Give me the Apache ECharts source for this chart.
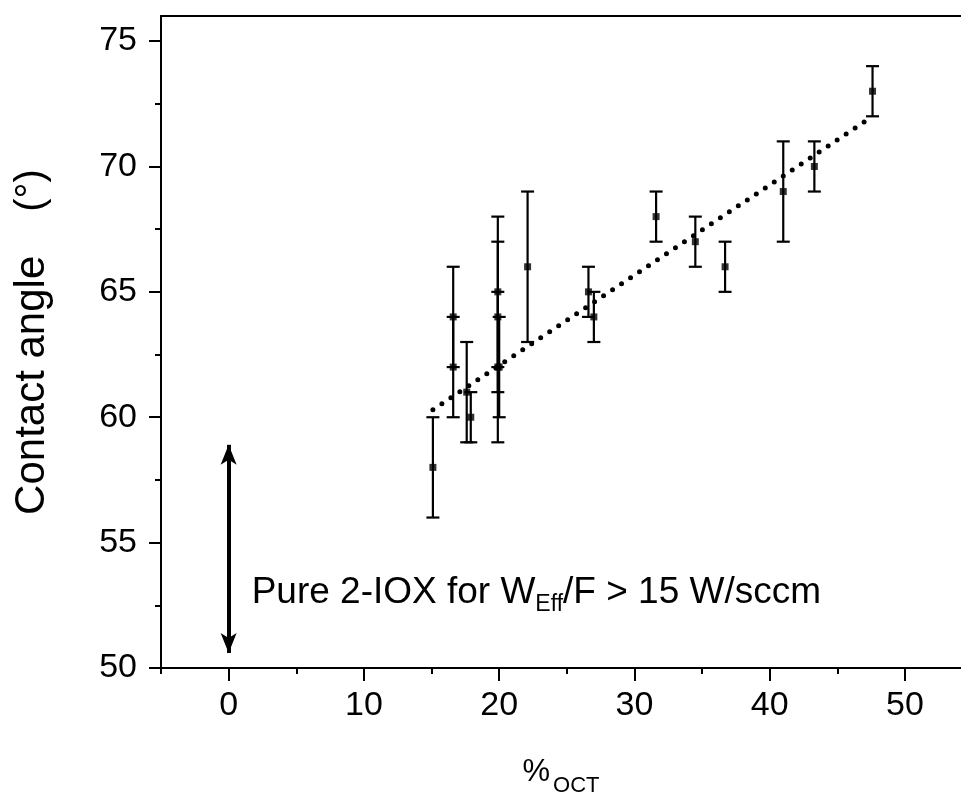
<!DOCTYPE html>
<html>
<head>
<meta charset="utf-8">
<script src="https://cdn.jsdelivr.net/npm/echarts@6/dist/echarts.min.js"></script>
<style>
html,body{margin:0;padding:0;background:#fff;}
#chart{width:961px;height:796px;}
</style>
</head>
<body>
<div id="chart"></div>
<script>
// ---- data ----
const xVals = [15.1, 16.6, 16.6, 17.6, 17.9, 19.9, 19.9, 20.0, 19.9, 22.1, 26.6, 27.0, 31.6, 34.5, 36.7, 41.0, 43.3, 47.6];
const yVals = [58, 64, 62, 61, 60, 65, 64, 62, 62, 66, 65, 64, 68, 67, 66, 69, 70, 73];
const yErr  = [2, 2, 2, 2, 1, 3, 3, 2, 3, 3, 1, 1, 1, 1, 1, 2, 1, 1];
const fitX = [15.1, 47.6];
const fitY = [60.3, 72.0];
const arrowX = [0, 0];
const arrowY = [50.6, 58.9];
const noteX = 1.7;
const noteY = 53.0;
const xMajorTicks = [0, 10, 20, 30, 40, 50];
const xMinorTicks = [-5, 5, 15, 25, 35, 45];
const yMajorTicks = [50, 55, 60, 65, 70, 75];
const yMinorTicks = [52.5, 57.5, 62.5, 67.5, 72.5];
const xRange = [-5, 54.14];
const yRange = [50, 76];

const FONT = "'Liberation Sans', Arial, sans-serif";
const chart = echarts.init(document.getElementById('chart'), null, {renderer: 'canvas'});

const points = xVals.map((x, i) => [x, yVals[i], yErr[i]]);
const fitData = fitX.map((x, i) => [x, fitY[i]]);

const axisLineStyle = {color: '#000', width: 2};

const option = {
  animation: false,
  backgroundColor: '#fff',
  grid: {left: 161, top: 16, right: 0, bottom: 128, containLabel: false, outerBoundsMode: 'none'},
  xAxis: [
    {
      type: 'value', min: xRange[0], max: xRange[1], position: 'bottom',
      splitLine: {show: false},
      axisLine: {show: true, onZero: false, lineStyle: axisLineStyle},
      axisTick: {show: true, inside: false, length: 13, lineStyle: {color: '#000', width: 2}, customValues: xMajorTicks},
      axisLabel: {customValues: xMajorTicks, margin: 21, fontSize: 34, color: '#000', fontFamily: FONT},
      name: '{a|%}{b|OCT}',
      nameLocation: 'middle', nameGap: 79,
      nameTextStyle: {
        rich: {
          a: {fontSize: 31, color: '#000', fontFamily: FONT},
          b: {fontSize: 22, color: '#000', fontFamily: FONT, padding: [28, 0, 0, 3]}
        }
      }
    },
    {
      type: 'value', min: xRange[0], max: xRange[1], position: 'bottom',
      splitLine: {show: false},
      axisLine: {show: false, onZero: false},
      axisTick: {show: true, length: 6, lineStyle: {color: '#000', width: 2}, customValues: xMinorTicks},
      axisLabel: {show: false}
    },
    {
      type: 'value', min: xRange[0], max: xRange[1], position: 'top',
      splitLine: {show: false},
      axisLine: {show: true, onZero: false, lineStyle: axisLineStyle},
      axisTick: {show: false},
      axisLabel: {show: false}
    }
  ],
  yAxis: [
    {
      type: 'value', min: yRange[0], max: yRange[1], position: 'left',
      splitLine: {show: false},
      axisLine: {show: true, onZero: false, lineStyle: axisLineStyle},
      axisTick: {show: true, length: 12, lineStyle: {color: '#000', width: 2}, customValues: yMajorTicks},
      axisLabel: {customValues: yMajorTicks, margin: 24, fontSize: 34, color: '#000', fontFamily: FONT},
      name: '{a|Contact angle}{b|(°)}',
      nameLocation: 'middle', nameGap: 108,
      nameTextStyle: {
        rich: {
          a: {fontSize: 42, color: '#000', fontFamily: FONT},
          b: {fontSize: 40, color: '#000', fontFamily: FONT, padding: [0, 0, 0, 44]}
        }
      }
    },
    {
      type: 'value', min: yRange[0], max: yRange[1], position: 'left',
      splitLine: {show: false},
      axisLine: {show: false, onZero: false},
      axisTick: {show: true, length: 6, lineStyle: {color: '#000', width: 2}, customValues: yMinorTicks},
      axisLabel: {show: false}
    }
  ],
  series: [
    {
      type: 'line', xAxisIndex: 0, yAxisIndex: 0,
      data: fitData, symbol: 'none', silent: true,
      lineStyle: {color: '#000', width: 5, type: [0, 10.8], cap: 'round'},
      z: 2
    },
    {
      type: 'custom', xAxisIndex: 0, yAxisIndex: 0,
      data: points,
      renderItem: function (params, api) {
        const x = api.value(0), y = api.value(1), e = api.value(2);
        const top = api.coord([x, y + e]);
        const bot = api.coord([x, y - e]);
        const hw = 6.5;
        const st = {stroke: '#000', lineWidth: 2.2};
        return {
          type: 'group',
          children: [
            {type: 'line', shape: {x1: top[0], y1: top[1], x2: bot[0], y2: bot[1]}, style: st},
            {type: 'line', shape: {x1: top[0] - hw, y1: top[1], x2: top[0] + hw, y2: top[1]}, style: st},
            {type: 'line', shape: {x1: bot[0] - hw, y1: bot[1], x2: bot[0] + hw, y2: bot[1]}, style: st}
          ]
        };
      },
      z: 3
    },
    {
      type: 'scatter', xAxisIndex: 0, yAxisIndex: 0,
      data: points.map(p => [p[0], p[1]]),
      symbol: 'rect', symbolSize: 7,
      itemStyle: {color: '#000'},
      z: 4,
      markLine: {
        silent: true,
        symbol: ['arrow', 'arrow'],
        symbolSize: [12, 20],
        label: {show: false},
        lineStyle: {color: '#000', width: 4, type: 'solid'},
        data: [[{coord: [arrowX[0], arrowY[0]]}, {coord: [arrowX[1], arrowY[1]]}]]
      }
    },
    {
      type: 'custom', xAxisIndex: 0, yAxisIndex: 0,
      data: [[noteX, noteY]], silent: true,
      renderItem: function (params, api) {
        const p = api.coord([api.value(0), api.value(1)]);
        return {
          type: 'text',
          x: p[0], y: p[1],
          style: {
            text: '{a|Pure 2-IOX for W}{s|Eff}{a|/F > 15 W/sccm}',
            align: 'left', verticalAlign: 'middle',
            fill: '#000',
            rich: {
              a: {fontSize: 37, fill: '#000', fontFamily: FONT},
              s: {fontSize: 23, fill: '#000', fontFamily: FONT, padding: [24, 0, 0, 0]}
            }
          }
        };
      },
      z: 5
    }
  ]
};
chart.setOption(option);
</script>
</body>
</html>
